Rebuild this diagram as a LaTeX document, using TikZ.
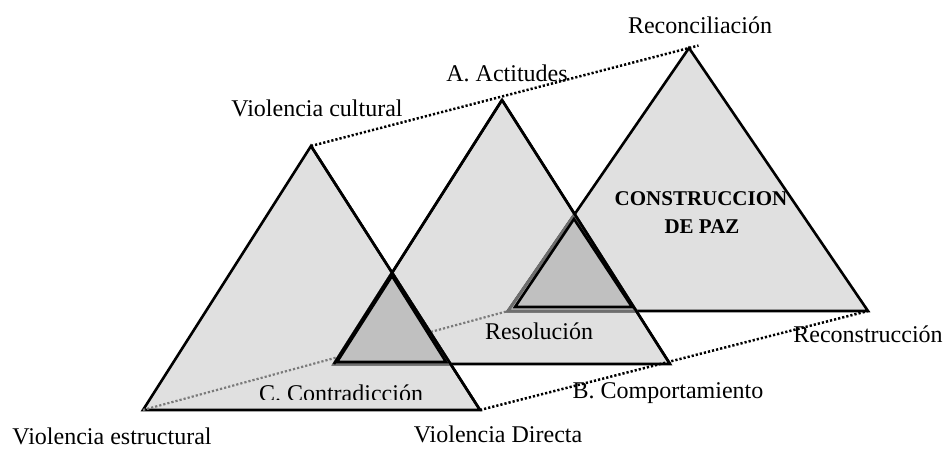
\documentclass[tikz,border=0pt]{standalone}
\usepackage{fontspec}
\setmainfont{Liberation Serif}
\usetikzlibrary{calc}
\definecolor{lightfill}{HTML}{E0E0E0}
\definecolor{darkfill}{HTML}{C0C0C0}
\definecolor{edgegray}{HTML}{6E6E6E}
\definecolor{dotgray}{HTML}{7A7A7A}
\begin{document}
\begin{tikzpicture}[x=1pt,y=-1pt,
  triedge/.style={draw=black,line width=2.6pt,line join=miter},
  grayedge/.style={draw=edgegray,line width=3pt,line join=miter},
  blackdots/.style={draw=black,line width=2.5pt,dash pattern=on 2.2pt off 2pt},
  graydots/.style={draw=dotgray,line width=2.2pt,dash pattern=on 2.2pt off 2pt},
  lbl/.style={anchor=base,inner sep=0pt,text depth=0pt,font=\fontsize{24}{28}\selectfont},
  boldlbl/.style={anchor=base,inner sep=0pt,font=\fontsize{21}{25}\selectfont\bfseries}]
\useasboundingbox (0,0) rectangle (944,448);
% vertices
\coordinate (T1a) at (311,146); \coordinate (T1l) at (143,410); \coordinate (T1r) at (480,410);
\coordinate (T2a) at (502,100); \coordinate (T2l) at (334,364); \coordinate (T2r) at (670,364);
\coordinate (T3a) at (689,48);  \coordinate (T3l) at (508,311); \coordinate (T3r) at (868,311);
\coordinate (D1a) at (392,273); \coordinate (D1l) at (334,364); \coordinate (D1r) at (450,364);
\coordinate (E1a) at (392,276); \coordinate (E1l) at (337,362); \coordinate (E1r) at (446,362);
\coordinate (D2a) at (574.5,214.5); \coordinate (D2l) at (508,311); \coordinate (D2r) at (636,311);
\coordinate (E2a) at (574,219); \coordinate (E2l) at (515,307); \coordinate (E2r) at (632,307);
\coordinate (topend) at ($(T1a)!1.025!(T3a)$);
% light triangles
\fill[lightfill] (T1a) -- (T1l) -- (T1r) -- cycle;
\fill[lightfill] (T2a) -- (T2l) -- (T2r) -- cycle;
\fill[lightfill] (T3a) -- (T3l) -- (T3r) -- cycle;
\draw[triedge] (T1a) -- (T1l) -- (T1r) -- cycle;
\draw[triedge] (T2a) -- (T2l) -- (T2r) -- cycle;
\draw[triedge] (T3a) -- (T3l) -- (T3r) -- cycle;
% dotted links
\draw[graydots] (T1l) -- (T3l);
\draw[blackdots] (T1a) -- (topend);
\draw[blackdots] (T1r) -- (T3r);
% dark triangle 1
\fill[darkfill] (D1a) -- (D1l) -- (D1r) -- cycle;
\draw[grayedge] (D1a) -- (D1l) -- (D1r) -- cycle;
\draw[triedge] (E1a) -- (E1l) -- (E1r) -- cycle;
\draw[triedge] (T1a) -- (T1r);
\draw[triedge] (T2a) -- (T2l);
% dark triangle 2
\fill[darkfill] (D2a) -- (D2l) -- (D2r) -- cycle;
\draw[grayedge] (D2a) -- (D2l) -- (D2r) -- cycle;
\draw[triedge] (E2a) -- (E2l) -- (E2r) -- cycle;
\draw[triedge] (T2a) -- (T2r);
% labels
\node[lbl] (vc) at (317,116) {Violencia cultural};
\node[lbl] (aa) at (507,81) {A. Actitudes};
\node[lbl] (rec) at (700,33) {Reconciliación};
\node[boldlbl] (cp1) at (701,205) {CONSTRUCCION};
\node[boldlbl] (cp2) at (702,233) {DE PAZ};
\node[lbl] (res) at (539,339) {Resolución};
\node[lbl] (recs) at (868,342) {Reconstrucción};
\node[lbl] (bc) at (668,398) {B. Comportamiento};
\begin{scope}
\clip (200,360) rectangle (470,399);
\node[lbl] (cc) at (341,401) {C. Contradicción};
\end{scope}
\node[lbl] (ve) at (112,444) {Violencia estructural};
\node[lbl] (vd) at (498,442) {Violencia Directa};
\end{tikzpicture}
\end{document}
